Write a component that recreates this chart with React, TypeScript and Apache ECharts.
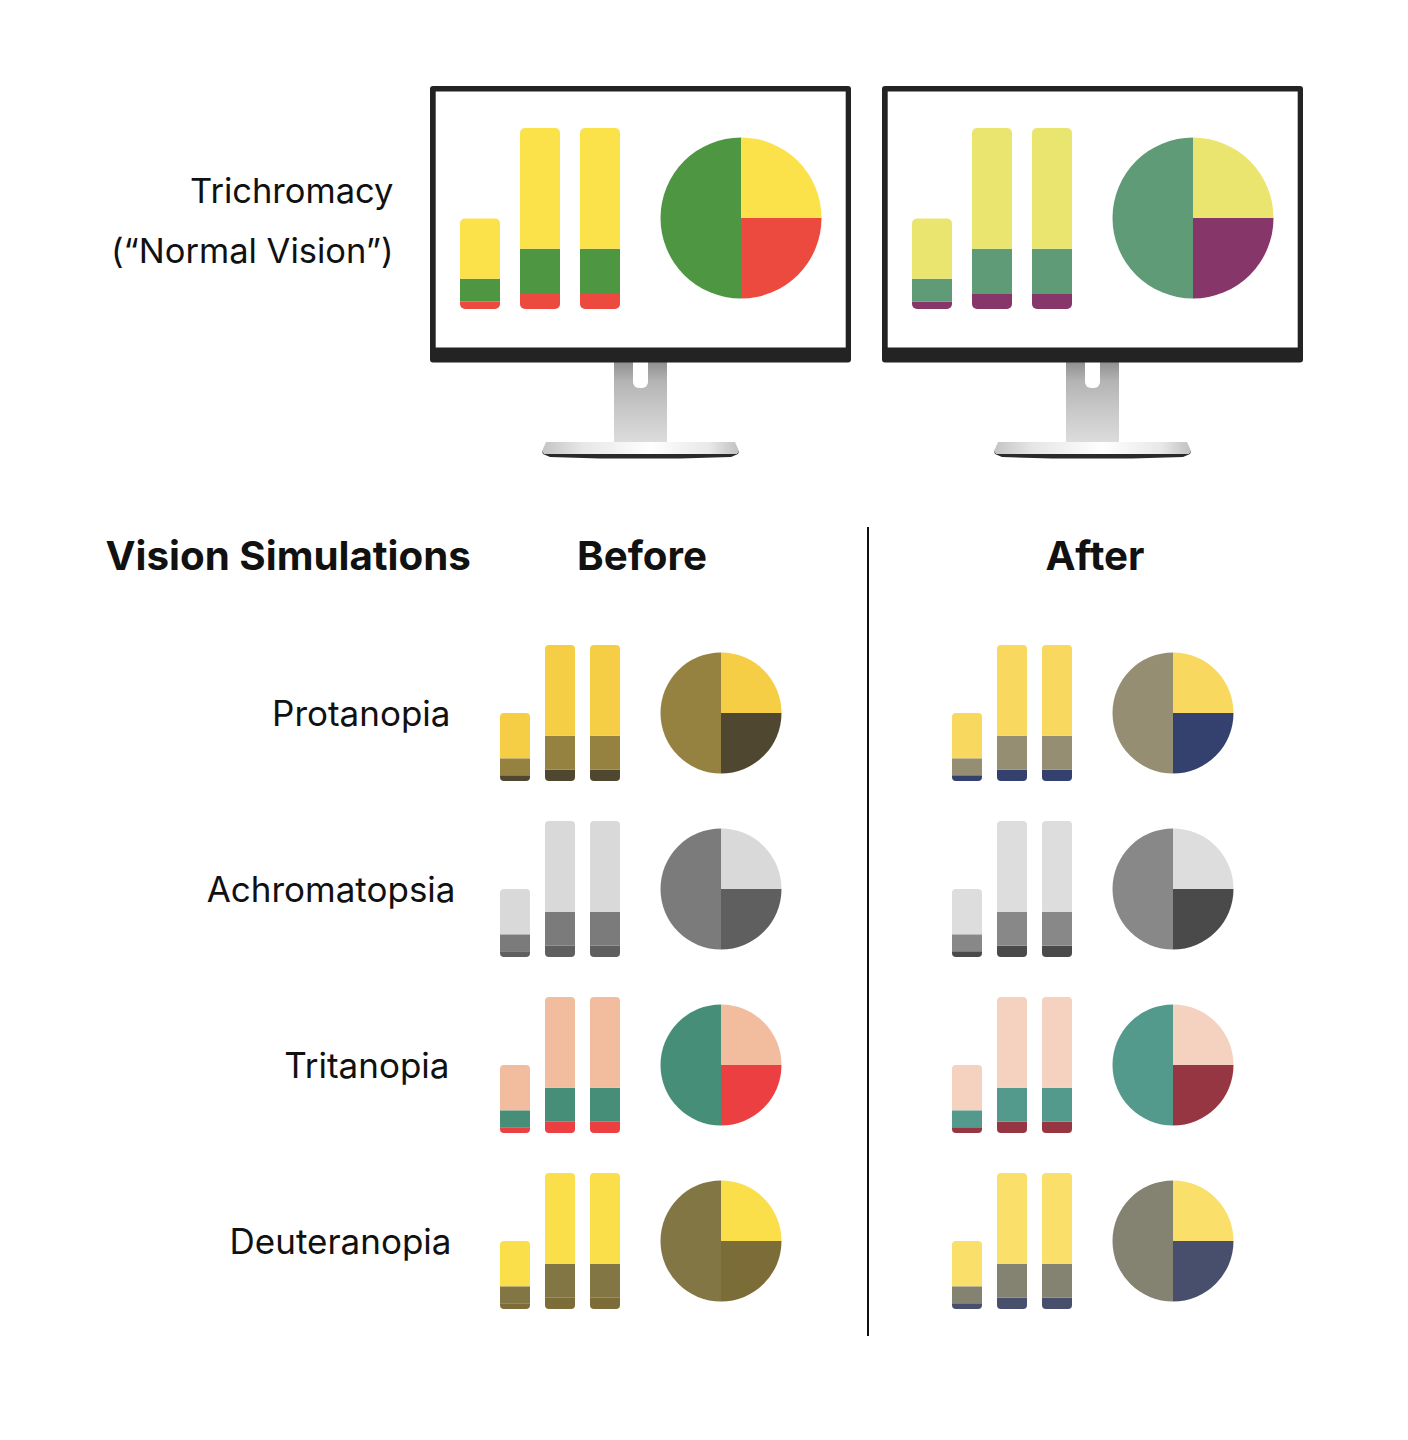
import React, { useEffect, useRef } from "react";
import * as echarts from "echarts";

// ---- data ----
const barCategories = ["A", "B", "C"];
const bottomValues = [7.5, 15, 15];
const middleValues = [22.5, 45, 45];
const topValues = [60, 120, 120];
const pieLabels = ["Top", "Bottom", "Middle"];
const pieValues = [25, 25, 50];

const columnTitles = ["Before", "After"];
const sectionTitle = "Vision Simulations";
const normalLines = ["Trichromacy", "(“Normal Vision”)"];
const rowLabels = ["Protanopia", "Achromatopsia", "Tritanopia", "Deuteranopia"];

// ---- palettes: [top, middle, bottom] ----
const normalBefore = ["#FBE14A", "#4F9643", "#EC493F"];
const normalAfter = ["#EAE56E", "#5F9B77", "#863668"];
const rowBefore = [
  ["#F6CE45", "#968240", "#504730"],
  ["#D9D9D9", "#7B7B7B", "#5F5F5F"],
  ["#F2BD9F", "#478E78", "#EC3F42"],
  ["#FADF4A", "#827644", "#7B6C38"],
];
const rowAfter = [
  ["#F8D85E", "#968E73", "#34406E"],
  ["#DDDDDD", "#888888", "#4A4A4A"],
  ["#F5D2BF", "#539A8D", "#963642"],
  ["#FADF6A", "#848271", "#474F6C"],
];

// ---- layout ----
const COL_OFFSET = 452;
const rowLabelRight = [450.5, 455.5, 449.5, 451.5];
const INK = "#111111";
const FONT = "Inter";
// palette index used by each pie slice (top, bottom, middle)
const pieColorIndex = [0, 2, 1];

function buildOption() {
  const grid: any[] = [];
  const xAxis: any[] = [];
  const yAxis: any[] = [];
  const series: any[] = [];

  const addPanel = (
    colors: string[],
    left: number,
    top: number,
    band: number,
    barW: number,
    height: number,
    radius: number,
    cx: number,
    cy: number,
    r: number,
  ) => {
    const i = grid.length;
    grid.push({ left, top, width: band * 3, height });
    xAxis.push({ type: "category", gridIndex: i, data: barCategories, show: false });
    yAxis.push({ type: "value", gridIndex: i, min: 0, max: 180, show: false });
    const stack = "s" + i;
    const base = { type: "bar", stack, xAxisIndex: i, yAxisIndex: i, barWidth: barW, silent: true };
    series.push({
      ...base,
      name: "bottom" + i,
      data: bottomValues,
      itemStyle: { color: colors[2], borderRadius: [0, 0, radius, radius] },
    });
    series.push({ ...base, name: "middle" + i, data: middleValues, itemStyle: { color: colors[1] } });
    series.push({
      ...base,
      name: "top" + i,
      data: topValues,
      itemStyle: { color: colors[0], borderRadius: [radius, radius, 0, 0] },
    });
    series.push({
      type: "pie",
      name: "pie" + i,
      center: [cx, cy],
      radius: [0, r],
      startAngle: 90,
      clockwise: true,
      silent: true,
      label: { show: false },
      labelLine: { show: false },
      data: pieLabels.map((name, k) => ({
        name,
        value: pieValues[k],
        itemStyle: { color: colors[pieColorIndex[k]] },
      })),
    });
  };

  addPanel(normalBefore, 450, 128, 60, 40, 181, 5, 741, 218, 80.5);
  addPanel(normalAfter, 450 + COL_OFFSET, 128, 60, 40, 181, 5, 741 + COL_OFFSET, 218, 80.5);
  rowLabels.forEach((_, r) => {
    const top = 645 + r * 176;
    const cy = 713 + r * 176;
    addPanel(rowBefore[r], 492.5, top, 45, 30, 136, 4, 721, cy, 60.5);
    addPanel(rowAfter[r], 492.5 + COL_OFFSET, top, 45, 30, 136, 4, 721 + COL_OFFSET, cy, 60.5);
  });

  const linear = (x: number, y: number, x2: number, y2: number, stops: [number, string][]) => ({
    type: "linear",
    x,
    y,
    x2,
    y2,
    colorStops: stops.map(([offset, color]) => ({ offset, color })),
  });

  const monitor = (dx: number) => [
    // base shadow
    {
      type: "polygon",
      z: 0,
      shape: { points: [[542 + dx, 451], [739 + dx, 451], [738 + dx, 454], [731 + dx, 457], [680 + dx, 458.5], [600 + dx, 458.5], [550 + dx, 457], [543 + dx, 454]] },
      style: { fill: "#2a2a2a" },
    },
    // base
    {
      type: "polygon",
      z: 1,
      shape: { points: [[546 + dx, 442], [735 + dx, 442], [739 + dx, 451], [737 + dx, 454], [544 + dx, 454], [542 + dx, 451]] },
      style: {
        fill: linear(0, 0, 1, 0, [
          [0, "#c4c4c4"],
          [0.2, "#e6e6e6"],
          [0.55, "#ffffff"],
          [0.85, "#e8e8e8"],
          [1, "#c0c0c0"],
        ]),
      },
    },
    // stand
    {
      type: "rect",
      z: 1,
      shape: { x: 614 + dx, y: 361, width: 53, height: 81 },
      style: {
        fill: linear(0, 0, 0, 1, [
          [0, "#8e8e8e"],
          [0.25, "#b4b4b4"],
          [0.6, "#c8c8c8"],
          [1, "#dcdcdc"],
        ]),
      },
    },
    // cable notch
    {
      type: "rect",
      z: 1,
      shape: { x: 633 + dx, y: 358, width: 15, height: 30, r: [0, 0, 6, 6] },
      style: { fill: "#ffffff" },
    },
    // bezel
    {
      type: "rect",
      z: 1,
      shape: { x: 430 + dx, y: 86, width: 421, height: 276.5, r: 3 },
      style: { fill: "#232323" },
    },
    // screen
    {
      type: "rect",
      z: 1,
      shape: { x: 435.7 + dx, y: 91.5, width: 410, height: 256 },
      style: { fill: "#ffffff" },
    },
  ];

  const text = (t: string, x: number, y: number, size: number, weight: number, align: string) => ({
    type: "text",
    z: 3,
    style: {
      text: t,
      x,
      y,
      fill: INK,
      fontFamily: FONT,
      fontSize: size,
      fontWeight: weight,
      align,
      verticalAlign: "middle",
    },
  });

  const graphic: any[] = [
    ...monitor(0),
    ...monitor(COL_OFFSET),
    text(normalLines[0], 393.5, 190.5, 34.5, 400, "right"),
    text(normalLines[1], 393.5, 250.5, 34.5, 400, "right"),
    text(sectionTitle, 105.5, 555, 40.3, 700, "left"),
    text(columnTitles[0], 642, 555, 40.3, 700, "center"),
    text(columnTitles[1], 1095, 555, 40.3, 700, "center"),
    ...rowLabels.map((l, r) => text(l, rowLabelRight[r], 712.5 + r * 176, 35, 400, "right")),
    {
      type: "line",
      z: 1,
      shape: { x1: 868, y1: 527, x2: 868, y2: 1336 },
      style: { stroke: "#111111", lineWidth: 2 },
    },
  ];

  return {
    animation: false,
    backgroundColor: "#ffffff",
    tooltip: { show: false },
    grid,
    xAxis,
    yAxis,
    series,
    graphic: { elements: graphic },
  };
}

export default function App() {
  const ref = useRef<HTMLDivElement>(null);
  useEffect(() => {
    const chart = echarts.init(ref.current!, undefined, { renderer: "svg" });
    chart.setOption(buildOption() as any);
    return () => chart.dispose();
  }, []);
  return <div ref={ref} style={{ position: "absolute", left: 0, top: 0, width: 1408, height: 1440 }} />;
}
